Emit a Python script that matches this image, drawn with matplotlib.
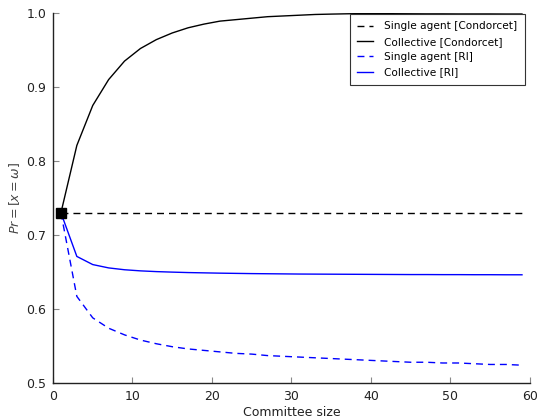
import matplotlib
matplotlib.use("Agg")
import matplotlib.pyplot as plt

# Committee sizes (odd numbers of members)
committee_size = list(range(1, 60, 2))

single_condorcet = [0.73] * len(committee_size)

collective_condorcet = [
    0.730, 0.821, 0.875, 0.910, 0.935, 0.952, 0.964, 0.973, 0.980, 0.985,
    0.989, 0.991, 0.993, 0.995, 0.996, 0.997, 0.998, 0.9985, 0.9989, 0.9992,
    0.9994, 0.9996, 0.9997, 0.9998, 0.9998, 0.9999, 0.9999, 0.9999, 1.0, 1.0,
]

single_ri = [
    0.730, 0.617, 0.588, 0.574, 0.565, 0.558, 0.553, 0.549, 0.546, 0.544,
    0.542, 0.540, 0.539, 0.537, 0.536, 0.535, 0.534, 0.533, 0.532, 0.531,
    0.530, 0.529, 0.528, 0.528, 0.527, 0.527, 0.526, 0.525, 0.525, 0.524,
]

collective_ri = [
    0.7300, 0.6710, 0.6600, 0.6555, 0.6530, 0.6515, 0.6505, 0.6498, 0.6492, 0.6488,
    0.6484, 0.6481, 0.6478, 0.6476, 0.6474, 0.6472, 0.6471, 0.6470, 0.6469, 0.6468,
    0.6467, 0.6466, 0.6465, 0.6465, 0.6464, 0.6464, 0.6463, 0.6463, 0.6462, 0.6462,
]

x_ticks = [0, 10, 20, 30, 40, 50, 60]
y_ticks = [0.5, 0.6, 0.7, 0.8, 0.9, 1.0]

fig = plt.figure(figsize=(5.38, 4.19), dpi=100)
ax = fig.add_axes([0.0985, 0.086, 0.8865, 0.883])

dash = (5, 3.6)
ax.plot(committee_size, single_condorcet, color="black", lw=1, ls="--",
        dashes=dash, label="Single agent [Condorcet]")
ax.plot(committee_size, collective_condorcet, color="black", lw=1,
        label="Collective [Condorcet]")
ax.plot(committee_size, single_ri, color="#0000ff", lw=1, ls="--",
        dashes=dash, label="Single agent [RI]")
ax.plot(committee_size, collective_ri, color="#0000ff", lw=1,
        label="Collective [RI]")
ax.plot([committee_size[0]], [single_condorcet[0]], marker="s", color="black",
        markersize=6.5, ls="none")

ax.set_xlim(0, 60)
ax.set_ylim(0.5, 1.0)
ax.set_xticks(x_ticks)
ax.set_yticks(y_ticks)
ax.set_xticklabels([str(v) for v in x_ticks])
ax.set_yticklabels([f"{v:.1f}" for v in y_ticks])

for side in ("top", "right"):
    ax.spines[side].set_visible(False)
for side in ("left", "bottom"):
    ax.spines[side].set_color("#222222")
    ax.spines[side].set_linewidth(1.0)

ax.tick_params(direction="in", length=4, width=0.8, color="#888888",
               labelsize=9, labelcolor="#222222", top=False, right=False)
ax.tick_params(axis="x", pad=5)
ax.tick_params(axis="y", pad=5)

ax.set_xlabel("Committee size", fontsize=9, color="#222222", labelpad=2)
ax.set_ylabel(r"$Pr = [x = \omega]$", fontsize=9, color="#444444", labelpad=3)

leg = ax.legend(loc="upper right", bbox_to_anchor=(525 / 538, 1 - 14 / 419),
                bbox_transform=fig.transFigure, borderaxespad=0,
                fontsize=7.6, fancybox=False, framealpha=1,
                edgecolor="#333333", handlelength=1.5, borderpad=0.7,
                labelspacing=0.5, handletextpad=1.1)
leg.get_frame().set_linewidth(0.8)

fig.savefig("out.png", dpi=100)
